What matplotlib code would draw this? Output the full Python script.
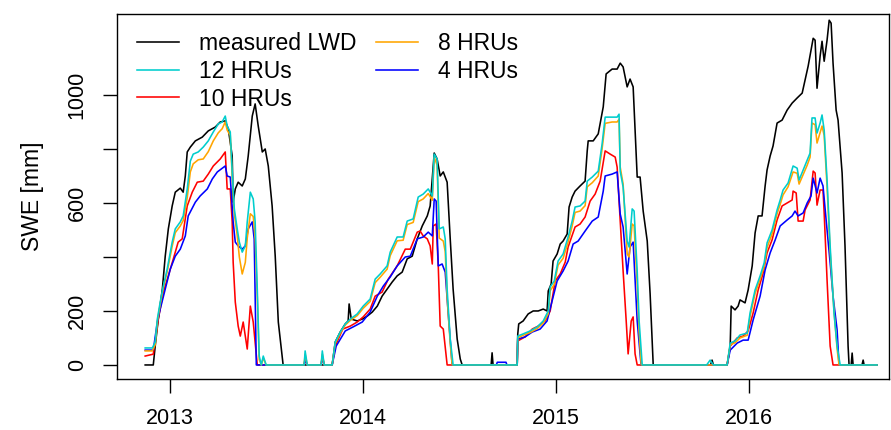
import numpy as np
import matplotlib
matplotlib.use("Agg")
import matplotlib.pyplot as plt

plt.rcParams['font.family'] = ['Liberation Sans', 'DejaVu Sans']

# time in decimal years, SWE in mm
lwd_t = [2012.870, 2012.912, 2012.922, 2012.938, 2012.959, 2012.974, 2012.990, 2013.010, 2013.026, 2013.052,
         2013.067, 2013.078, 2013.088, 2013.104, 2013.130, 2013.166, 2013.197, 2013.233, 2013.259, 2013.285,
         2013.301, 2013.321, 2013.326, 2013.337, 2013.352, 2013.373, 2013.389, 2013.404, 2013.425, 2013.440,
         2013.456, 2013.477, 2013.492, 2013.508, 2013.528, 2013.544, 2013.560, 2013.585,
         2013.839, 2013.855, 2013.881, 2013.907, 2013.922, 2013.927, 2013.938, 2013.969, 2013.995, 2014.021,
         2014.047, 2014.073, 2014.098, 2014.124, 2014.150, 2014.176, 2014.202, 2014.228, 2014.254, 2014.280,
         2014.306, 2014.332, 2014.347, 2014.368, 2014.383, 2014.399, 2014.415, 2014.435, 2014.451, 2014.466,
         2014.487, 2014.503, 2014.513,
         2014.663, 2014.668, 2014.673,
         2014.798, 2014.801, 2014.806, 2014.829, 2014.855, 2014.881, 2014.907, 2014.933, 2014.953, 2014.959,
         2014.974, 2014.984, 2015.005, 2015.021, 2015.036, 2015.057, 2015.067, 2015.083, 2015.098, 2015.124,
         2015.150, 2015.161, 2015.166, 2015.192, 2015.218, 2015.244, 2015.259, 2015.290, 2015.316, 2015.332,
         2015.347, 2015.368, 2015.383, 2015.399, 2015.420, 2015.435, 2015.451, 2015.472, 2015.487, 2015.503,
         2015.800, 2015.808, 2015.815,
         2015.886, 2015.902, 2015.907, 2015.927, 2015.943, 2015.953, 2015.979, 2015.995, 2016.016, 2016.031,
         2016.047, 2016.067, 2016.083, 2016.093, 2016.109, 2016.124, 2016.145, 2016.171, 2016.197, 2016.223,
         2016.249, 2016.275, 2016.290, 2016.306, 2016.321, 2016.332, 2016.342, 2016.352, 2016.368, 2016.378,
         2016.389, 2016.404, 2016.415, 2016.425, 2016.435, 2016.451, 2016.461, 2016.482, 2016.497, 2016.513,
         2016.518, 2016.529, 2016.534, 2016.539, 2016.585, 2016.591, 2016.596, 2016.663]
lwd_v = [0, 0, 70, 170, 281, 403, 504, 589, 640, 655,
         640, 700, 789, 807, 830, 844, 867, 881, 900, 904,
         874, 774, 603, 652, 677, 663, 689, 774, 922, 967,
         885, 789, 800, 737, 589, 403, 159, 0,
         0, 85, 122, 152, 163, 226, 170, 163, 170, 181,
         196, 218, 255, 281, 307, 330, 344, 393, 403, 467,
         515, 552, 589, 785, 763, 700, 715, 677, 467, 281,
         96, 22, 0,
         0, 45, 0,
         0, 115, 152, 163, 189, 200, 200, 207, 200, 274,
         300, 385, 411, 448, 459, 485, 585, 622, 644, 663,
         681, 793, 830, 830, 856, 956, 1078, 1096, 1096, 1118,
         1104, 1030, 1059, 1030, 696, 696, 570, 459, 263, 0,
         0, 18, 0,
         0, 70, 218, 204, 218, 241, 230, 278, 367, 489,
         552, 552, 663, 722, 774, 811, 896, 907, 944, 970,
         989, 1007, 1055, 1107, 1166, 1210, 1203, 1025, 1144, 1199,
         1125, 1203, 1277, 1266, 1118, 944, 907, 711, 441, 70,
         0, 0, 44, 0, 0, 18, 0, 0]

hru12_t = [2012.870, 2012.907, 2012.922, 2012.933, 2012.948, 2012.964, 2012.984, 2013.010, 2013.026, 2013.052,
           2013.067, 2013.088, 2013.104, 2013.119, 2013.145, 2013.171, 2013.197, 2013.223, 2013.249, 2013.269,
           2013.285, 2013.295, 2013.311, 2013.321, 2013.332, 2013.347, 2013.358, 2013.373, 2013.389, 2013.399,
           2013.415, 2013.430, 2013.440, 2013.451, 2013.461, 2013.472, 2013.482, 2013.497,
           2013.694, 2013.699, 2013.710, 2013.782, 2013.788, 2013.798,
           2013.839, 2013.855, 2013.881, 2013.907, 2013.933, 2013.969, 2014.000, 2014.036, 2014.062, 2014.088,
           2014.124, 2014.140, 2014.176, 2014.207, 2014.228, 2014.259, 2014.285, 2014.311, 2014.337, 2014.358,
           2014.368, 2014.383, 2014.394, 2014.415, 2014.425, 2014.435, 2014.451, 2014.466,
           2014.798, 2014.801, 2014.829, 2014.865, 2014.902, 2014.933, 2014.959, 2014.969, 2014.990, 2015.010,
           2015.036, 2015.062, 2015.083, 2015.098, 2015.124, 2015.150, 2015.161, 2015.187, 2015.218, 2015.238,
           2015.254, 2015.290, 2015.316, 2015.326, 2015.332, 2015.347, 2015.368, 2015.378, 2015.394, 2015.404,
           2015.420, 2015.430, 2015.446,
           2015.780, 2015.798, 2015.815,
           2015.886, 2015.902, 2015.927, 2015.953, 2015.990, 2016.005, 2016.031, 2016.057, 2016.078, 2016.093,
           2016.119, 2016.145, 2016.161, 2016.176, 2016.202, 2016.228, 2016.249, 2016.259, 2016.280, 2016.301,
           2016.316, 2016.326, 2016.342, 2016.352, 2016.368, 2016.378, 2016.389, 2016.404, 2016.420, 2016.440,
           2016.456, 2016.472, 2016.663]
hru12_v = [63, 63, 85, 170, 233, 292, 355, 455, 504, 530,
           552, 652, 755, 781, 789, 807, 830, 863, 893, 900,
           922, 885, 863, 715, 578, 504, 455, 418, 441, 530,
           640, 615, 530, 281, 33, 0, 33, 0,
           0, 52, 0, 0, 52, 0,
           0, 85, 122, 152, 170, 189, 218, 244, 318, 337,
           367, 418, 474, 474, 533, 541, 622, 633, 652, 626,
           781, 763, 504, 511, 467, 281, 96, 0,
           0, 107, 115, 126, 141, 163, 200, 289, 311, 385,
           411, 474, 533, 585, 589, 607, 681, 696, 718, 818,
           918, 918, 918, 929, 718, 659, 459, 437, 578, 570,
           348, 163, 0,
           0, 18, 0,
           0, 81, 89, 111, 118, 193, 278, 330, 378, 452,
           500, 574, 611, 648, 674, 737, 729, 685, 722, 759,
           785, 915, 915, 859, 896, 926, 870, 685, 441, 193,
           70, 0, 0]

hru10_t = [2012.870, 2012.912, 2012.938, 2012.964, 2012.990, 2013.016, 2013.041, 2013.062, 2013.088, 2013.114,
           2013.140, 2013.171, 2013.197, 2013.223, 2013.259, 2013.285, 2013.295, 2013.311, 2013.321, 2013.326,
           2013.337, 2013.352, 2013.363, 2013.378, 2013.399, 2013.415, 2013.430, 2013.451,
           2013.694, 2013.699, 2013.710, 2013.782, 2013.788, 2013.798,
           2013.839, 2013.855, 2013.894, 2013.933, 2013.969, 2014.000, 2014.036, 2014.062, 2014.098, 2014.130,
           2014.176, 2014.218, 2014.244, 2014.280, 2014.295, 2014.311, 2014.332, 2014.347, 2014.358, 2014.363,
           2014.378, 2014.389, 2014.399, 2014.415, 2014.435,
           2014.798, 2014.801, 2014.839, 2014.876, 2014.907, 2014.943, 2014.969, 2014.995, 2015.021, 2015.047,
           2015.062, 2015.098, 2015.124, 2015.150, 2015.176, 2015.202, 2015.228, 2015.254, 2015.280, 2015.306,
           2015.316, 2015.332, 2015.347, 2015.363, 2015.373, 2015.389, 2015.399, 2015.409, 2015.420,
           2015.886, 2015.902, 2015.938, 2015.969, 2015.995, 2016.021, 2016.047, 2016.073, 2016.093, 2016.119,
           2016.145, 2016.171, 2016.197, 2016.223, 2016.228, 2016.244, 2016.254, 2016.280, 2016.290, 2016.316,
           2016.332, 2016.342, 2016.352, 2016.368, 2016.383, 2016.389, 2016.404, 2016.420, 2016.435, 2016.663]
hru10_v = [33, 40, 170, 270, 330, 393, 455, 467, 589, 640,
           677, 681, 707, 737, 763, 789, 652, 652, 530, 381,
           233, 144, 107, 159, 59, 218, 159, 0,
           0, 25, 0, 0, 30, 0,
           0, 70, 133, 144, 159, 178, 207, 255, 270, 318,
           367, 429, 429, 492, 496, 478, 467, 441, 374, 515,
           522, 367, 144, 133, 0,
           0, 89, 104, 133, 144, 163, 200, 311, 337, 381,
           437, 511, 522, 548, 607, 633, 681, 793, 781, 770,
           733, 533, 348, 163, 41, 163, 178, 41, 0,
           0, 70, 100, 107, 126, 193, 278, 341, 415, 463,
           537, 589, 600, 611, 644, 637, 533, 533, 574, 611,
           718, 711, 592, 648, 648, 563, 315, 70, 0, 0]

hru8_t = [2012.870, 2012.907, 2012.922, 2012.933, 2012.948, 2012.964, 2012.984, 2013.010, 2013.026, 2013.052,
          2013.067, 2013.088, 2013.104, 2013.119, 2013.145, 2013.171, 2013.197, 2013.223, 2013.249, 2013.269,
          2013.285, 2013.295, 2013.311, 2013.321, 2013.332, 2013.347, 2013.358, 2013.373, 2013.389, 2013.399,
          2013.415, 2013.430, 2013.440, 2013.451, 2013.461, 2013.472, 2013.482, 2013.497,
          2013.694, 2013.699, 2013.710, 2013.782, 2013.788, 2013.798,
          2013.839, 2013.855, 2013.881, 2013.907, 2013.933, 2013.969, 2014.000, 2014.036, 2014.062, 2014.088,
          2014.124, 2014.140, 2014.176, 2014.207, 2014.228, 2014.259, 2014.285, 2014.311, 2014.337, 2014.358,
          2014.368, 2014.383, 2014.394, 2014.415, 2014.425, 2014.435, 2014.451, 2014.461,
          2014.798, 2014.801, 2014.829, 2014.865, 2014.902, 2014.933, 2014.959, 2014.969, 2014.990, 2015.010,
          2015.036, 2015.062, 2015.083, 2015.098, 2015.124, 2015.150, 2015.161, 2015.187, 2015.218, 2015.238,
          2015.254, 2015.290, 2015.316, 2015.326, 2015.332, 2015.347, 2015.368, 2015.378, 2015.394, 2015.404,
          2015.420, 2015.430, 2015.441,
          2015.886, 2015.902, 2015.927, 2015.953, 2015.990, 2016.005, 2016.031, 2016.057, 2016.078, 2016.093,
          2016.119, 2016.145, 2016.161, 2016.176, 2016.202, 2016.228, 2016.249, 2016.259, 2016.280, 2016.301,
          2016.316, 2016.326, 2016.342, 2016.352, 2016.368, 2016.378, 2016.389, 2016.404, 2016.420, 2016.440,
          2016.456, 2016.466, 2016.663]
hru8_v = [52, 52, 75, 160, 225, 285, 345, 440, 490, 515,
          535, 620, 715, 745, 760, 763, 790, 830, 860, 875,
          900, 870, 850, 700, 560, 480, 400, 337, 380, 470,
          560, 550, 470, 250, 20, 0, 25, 0,
          0, 40, 0, 0, 40, 0,
          0, 80, 118, 148, 165, 183, 210, 235, 305, 325,
          355, 405, 460, 462, 520, 528, 605, 615, 635, 610,
          770, 740, 470, 459, 420, 250, 80, 0,
          0, 100, 110, 120, 135, 155, 190, 275, 298, 370,
          395, 455, 515, 565, 570, 590, 660, 675, 700, 800,
          895, 900, 900, 910, 733, 670, 411, 400, 522, 515,
          300, 120, 0,
          0, 75, 82, 100, 110, 180, 265, 318, 365, 435,
          485, 560, 595, 630, 660, 715, 710, 670, 705, 740,
          770, 896, 890, 822, 860, 885, 850, 660, 420, 200,
          60, 0, 0]

hru4_t = [2012.870, 2012.912, 2012.933, 2012.948, 2012.974, 2013.000, 2013.026, 2013.052, 2013.078, 2013.093,
          2013.130, 2013.155, 2013.192, 2013.218, 2013.244, 2013.285, 2013.295, 2013.311, 2013.326, 2013.337,
          2013.352, 2013.373, 2013.389, 2013.404, 2013.425, 2013.435, 2013.446,
          2013.694, 2013.699, 2013.710, 2013.782, 2013.788, 2013.798,
          2013.839, 2013.860, 2013.907, 2013.948, 2013.995, 2014.036, 2014.073, 2014.104, 2014.140, 2014.176,
          2014.218, 2014.244, 2014.280, 2014.311, 2014.337, 2014.358, 2014.368, 2014.378, 2014.389, 2014.409,
          2014.425, 2014.440, 2014.461,
          2014.690, 2014.695, 2014.740, 2014.745,
          2014.798, 2014.801, 2014.839, 2014.876, 2014.917, 2014.953, 2014.979, 2015.005, 2015.036, 2015.062,
          2015.088, 2015.114, 2015.150, 2015.187, 2015.218, 2015.244, 2015.254, 2015.290, 2015.316, 2015.332,
          2015.347, 2015.368, 2015.383, 2015.399, 2015.420, 2015.440,
          2015.886, 2015.902, 2015.938, 2015.969, 2015.995, 2016.021, 2016.057, 2016.083, 2016.109, 2016.135,
          2016.161, 2016.197, 2016.223, 2016.238, 2016.254, 2016.280, 2016.301, 2016.321, 2016.332, 2016.352,
          2016.368, 2016.383, 2016.404, 2016.420, 2016.435, 2016.456, 2016.466, 2016.663]
hru4_v = [55, 55, 159, 207, 281, 355, 403, 429, 478, 552,
          603, 626, 652, 689, 715, 737, 700, 696, 530, 455,
          441, 429, 441, 504, 530, 467, 0,
          0, 20, 0, 0, 30, 0,
          0, 70, 126, 141, 159, 196, 255, 292, 326, 367,
          400, 403, 467, 474, 492, 478, 615, 607, 367, 374,
          344, 196, 0,
          0, 10, 10, 0,
          0, 96, 104, 122, 133, 163, 237, 311, 348, 385,
          448, 459, 496, 533, 548, 644, 700, 707, 715, 559,
          511, 337, 437, 455, 163, 0,
          0, 55, 81, 92, 92, 167, 255, 352, 415, 463,
          515, 537, 552, 570, 552, 563, 600, 626, 692, 637,
          692, 663, 500, 378, 255, 130, 0, 0]

years = [2013, 2014, 2015, 2016]
swe_ticks = [0, 200, 400, 600, 800, 1000]
swe_labels = ['0', '200', '', '600', '', '1000']

fig = plt.figure(figsize=(8.91, 4.30), dpi=100)
ax = fig.add_axes([117 / 891, 1 - 379 / 430, 772 / 891, 365 / 430])

lw = 1.15
ax.plot(lwd_t, lwd_v, color='black', lw=lw, label='measured LWD')
ax.plot(hru10_t, hru10_v, color='red', lw=lw, label='10 HRUs')
ax.plot(hru4_t, hru4_v, color='blue', lw=lw, label='4 HRUs')
ax.plot(hru8_t, hru8_v, color='orange', lw=lw, label='8 HRUs')
ax.plot(hru12_t, hru12_v, color='#00CDCD', lw=lw, label='12 HRUs')

ax.set_xlim(2012.724, 2016.725)
ax.set_ylim(-52, 1300)
ax.set_xticks(years)
ax.set_xticklabels([str(y) for y in years])
ax.set_yticks(swe_ticks)
ax.set_yticklabels(swe_labels, rotation=90, va='center')
ax.tick_params(axis='both', length=10, width=1, pad=11, labelsize=15.5, direction='out')
for s in ax.spines.values():
    s.set_linewidth(1.0)

fig.text(32 / 891, 1 - 196.5 / 430, 'SWE [mm]', rotation=90, ha='center', va='center', fontsize=16.5)

# legend: measured, 12, 10 in first column; 8, 4 in second
h, l = ax.get_legend_handles_labels()
order = [0, 4, 1, 3, 2]
ax.legend([h[i] for i in order], [l[i] for i in order], ncol=2, frameon=False,
          loc='upper left', bbox_to_anchor=(0.026, 0.951), borderaxespad=0, borderpad=0,
          fontsize=16.5, handlelength=1.83, handletextpad=0.87, columnspacing=0.87,
          labelspacing=0.21)

fig.savefig('out.png', dpi=100)
